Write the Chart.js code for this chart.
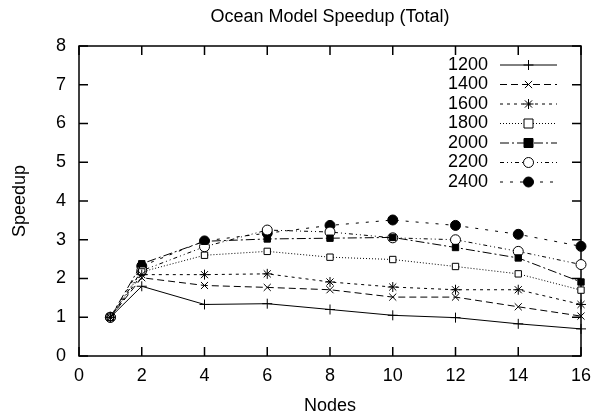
<!DOCTYPE html>
<html>
<head>
<meta charset="utf-8">
<script src="https://cdn.jsdelivr.net/npm/chart.js@4"></script>
<style>
  html, body { margin: 0; padding: 0; background: #fff; }
  #wrap { width: 602px; height: 419px; }
</style>
</head>
<body>
<div id="wrap"><canvas id="chart" width="602" height="419"></canvas></div>
<script>
const nodes = [1, 2, 4, 6, 8, 10, 12, 14, 16];
const s1200 = [1, 1.80, 1.33, 1.35, 1.20, 1.05, 0.99, 0.83, 0.70];
const s1400 = [1, 2.02, 1.82, 1.77, 1.71, 1.52, 1.52, 1.27, 1.03];
const s1600 = [1, 2.10, 2.10, 2.12, 1.91, 1.78, 1.71, 1.71, 1.33];
const s1800 = [1, 2.17, 2.60, 2.70, 2.55, 2.49, 2.31, 2.12, 1.70];
const s2000 = [1, 2.38, 2.96, 3.02, 3.04, 3.06, 2.80, 2.53, 1.91];
const s2200 = [1, 2.20, 2.82, 3.25, 3.20, 3.05, 3.00, 2.70, 2.36];
const s2400 = [1, 2.32, 2.97, 3.17, 3.37, 3.51, 3.37, 3.14, 2.83];
const labels = ['1200', '1400', '1600', '1800', '2000', '2200', '2400'];
const xTicks = [0, 2, 4, 6, 8, 10, 12, 14, 16];
const yTicks = [0, 1, 2, 3, 4, 5, 6, 7, 8];

const FONT = "'Liberation Sans', Arial, Helvetica, sans-serif";
const FSIZE = 18;

// line style per series: dash, marker, filled
const styles = [
  { dash: [], point: 'cross', fill: false },
  { dash: [7, 4], point: 'crossRot', fill: false },
  { dash: [3, 4], point: 'star', fill: false },
  { dash: [1, 2], point: 'rect', fill: false },
  { dash: [9, 3, 2, 3], point: 'rect', fill: true },
  { dash: [4, 3, 1, 3, 1, 3], point: 'circle', fill: false },
  { dash: [3, 7], point: 'circle', fill: true },
];

const series = [s1200, s1400, s1600, s1800, s2000, s2200, s2400];

function toPoints(vals) {
  return nodes.map((n, i) => ({ x: n, y: vals[i] }));
}

const datasets = series.map((vals, i) => ({
  label: labels[i],
  data: toPoints(vals),
  borderColor: '#000',
  borderWidth: 1,
  borderDash: styles[i].dash,
  pointStyle: styles[i].point,
  pointRadius: styles[i].point === 'rect' ? 4.5 : 5,
  pointBorderWidth: 1,
  pointBorderColor: '#000',
  pointBackgroundColor: styles[i].fill ? '#000' : '#fff',
  tension: 0,
  clip: false,
}));

function drawMarker(ctx, style, x, y) {
  const r = 5;
  ctx.save();
  ctx.setLineDash([]);
  ctx.lineWidth = 1;
  ctx.strokeStyle = '#000';
  ctx.fillStyle = style.fill ? '#000' : '#fff';
  ctx.beginPath();
  if (style.point === 'cross') {
    ctx.moveTo(x - r, y); ctx.lineTo(x + r, y);
    ctx.moveTo(x, y - r); ctx.lineTo(x, y + r);
    ctx.stroke();
  } else if (style.point === 'crossRot') {
    const d = r * 0.72;
    ctx.moveTo(x - d, y - d); ctx.lineTo(x + d, y + d);
    ctx.moveTo(x - d, y + d); ctx.lineTo(x + d, y - d);
    ctx.stroke();
  } else if (style.point === 'star') {
    const d = r * 0.72;
    ctx.moveTo(x - r, y); ctx.lineTo(x + r, y);
    ctx.moveTo(x, y - r); ctx.lineTo(x, y + r);
    ctx.moveTo(x - d, y - d); ctx.lineTo(x + d, y + d);
    ctx.moveTo(x - d, y + d); ctx.lineTo(x + d, y - d);
    ctx.stroke();
  } else if (style.point === 'rect') {
    const h = 4.5;
    ctx.rect(x - h, y - h, 2 * h, 2 * h);
    ctx.fill(); ctx.stroke();
  } else {
    ctx.arc(x, y, r, 0, Math.PI * 2);
    ctx.fill(); ctx.stroke();
  }
  ctx.restore();
}

// gnuplot-like frame with inward ticks and a key inside the plot
const gnuFrame = {
  id: 'gnuFrame',
  beforeDatasetsDraw(chart) {
    const { ctx, chartArea: a, scales } = chart;
    const tl = 9;
    ctx.save();
    ctx.strokeStyle = '#000';
    ctx.lineWidth = 1.5;
    ctx.setLineDash([]);
    ctx.strokeRect(a.left, a.top, a.right - a.left, a.bottom - a.top);
    ctx.beginPath();
    xTicks.forEach(v => {
      const px = scales.x.getPixelForValue(v);
      ctx.moveTo(px, a.bottom); ctx.lineTo(px, a.bottom - tl);
      ctx.moveTo(px, a.top); ctx.lineTo(px, a.top + tl);
    });
    yTicks.forEach(v => {
      const py = scales.y.getPixelForValue(v);
      ctx.moveTo(a.left, py); ctx.lineTo(a.left + tl, py);
      ctx.moveTo(a.right, py); ctx.lineTo(a.right - tl, py);
    });
    ctx.stroke();
    ctx.restore();
  },
  afterDraw(chart) {
    const { ctx } = chart;
    const textRight = 488, lineL = 500, lineR = 557, y0 = 65, step = 19.5;
    ctx.save();
    ctx.font = FSIZE + 'px ' + FONT;
    ctx.fillStyle = '#000';
    ctx.textAlign = 'right';
    ctx.textBaseline = 'middle';
    labels.forEach((lab, i) => {
      const y = y0 + i * step;
      ctx.fillText(lab, textRight, y);
      ctx.beginPath();
      ctx.lineWidth = 1;
      ctx.setLineDash(styles[i].dash);
      ctx.moveTo(lineL, y); ctx.lineTo(lineR, y);
      ctx.stroke();
      drawMarker(ctx, styles[i], (lineL + lineR) / 2, y);
    });
    ctx.restore();
  }
};

new Chart(document.getElementById('chart'), {
  type: 'line',
  data: { datasets: datasets },
  plugins: [gnuFrame],
  options: {
    responsive: false,
    animation: false,
    layout: { padding: { top: 0, right: 21, left: 0, bottom: 0 } },
    plugins: {
      legend: { display: false },
      tooltip: { enabled: false },
      title: {
        display: true,
        fullSize: false,
        text: 'Ocean Model Speedup (Total)',
        color: '#000',
        font: { family: FONT, size: FSIZE, weight: 'normal', lineHeight: 1.2 },
        padding: { top: 6.5, bottom: 17.9 },
      },
    },
    scales: {
      x: {
        type: 'linear',
        min: 0,
        max: 16,
        afterFit(scale) { scale.height = 63; },
        afterBuildTicks(scale) { scale.ticks = xTicks.map(v => ({ value: v })); },
        grid: { display: false, drawTicks: false },
        border: { display: false },
        ticks: { color: '#000', padding: 9.5, font: { family: FONT, size: FSIZE } },
        title: {
          display: true,
          text: 'Nodes',
          color: '#000',
          font: { family: FONT, size: FSIZE },
          padding: { top: 0, bottom: 2 },
        },
      },
      y: {
        min: 0,
        max: 8,
        afterFit(scale) { scale.width = 79; },
        afterBuildTicks(scale) { scale.ticks = yTicks.map(v => ({ value: v })); },
        grid: { display: false, drawTicks: false },
        border: { display: false },
        ticks: { color: '#000', padding: 13, font: { family: FONT, size: FSIZE } },
        title: {
          display: true,
          text: 'Speedup',
          color: '#000',
          font: { family: FONT, size: FSIZE },
          padding: { top: 9, bottom: 0 },
        },
      },
    },
  },
});
</script>
</body>
</html>
